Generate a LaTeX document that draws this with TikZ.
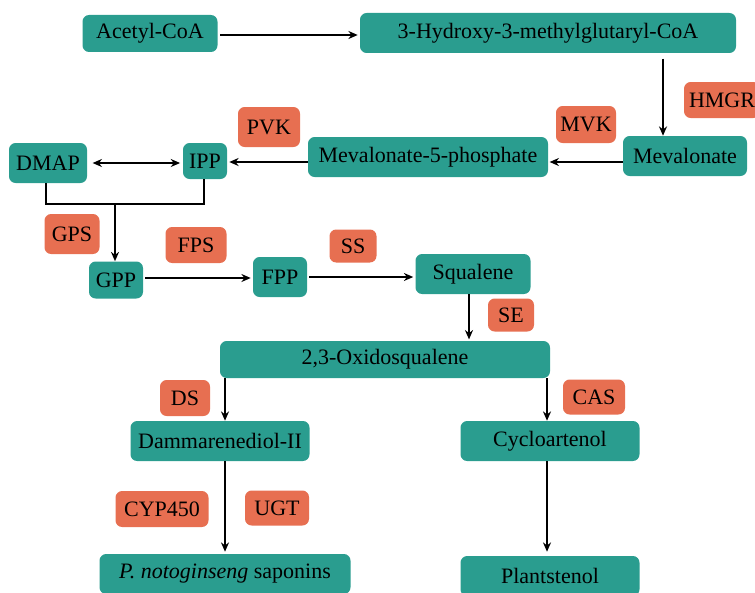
\documentclass[tikz,border=0pt]{standalone}
\usepackage{fontspec}
\setmainfont{Liberation Serif}
\usetikzlibrary{arrows.meta}
\definecolor{teal1}{RGB}{42,157,143}
\definecolor{orng}{RGB}{231,111,81}
\tikzset{
  met/.style={fill=teal1, rounded corners=5pt, inner sep=0pt, font=\fontsize{16.5}{19}\selectfont, text=black},
  enz/.style={fill=orng, rounded corners=5pt, inner sep=0pt, font=\fontsize{16.5}{19}\selectfont, text=black},
  arr/.style={draw=black, line width=1.4pt, -{Stealth[length=7pt,width=6pt]}},
  dbl/.style={draw=black, line width=1.4pt, {Stealth[length=7pt,width=6pt]}-{Stealth[length=7pt,width=6pt]}},
  ln/.style={draw=black, line width=1.4pt},
}
\begin{document}
\begin{tikzpicture}[x=0.75pt,y=-0.75pt]
\useasboundingbox (0,0) rectangle (755,592);
\clip (0,0) rectangle (755,592);
% metabolites
\node[met, minimum width=135*0.75pt, minimum height=37*0.75pt] (acetyl) at (150,33.5) {Acetyl-CoA};
\node[met, minimum width=376*0.75pt, minimum height=40*0.75pt] (hmg) at (548,33) {3-Hydroxy-3-methylglutaryl-CoA};
\node[met, minimum width=124*0.75pt, minimum height=40*0.75pt] (mev) at (685,156) {Mevalonate};
\node[met, minimum width=240*0.75pt, minimum height=40*0.75pt] (m5p) at (428,157) {Mevalonate-5-phosphate};
\node[met, minimum width=44*0.75pt, minimum height=36*0.75pt] (ipp) at (205,161) {IPP};
\node[met, minimum width=78*0.75pt, minimum height=40*0.75pt] (dmap) at (48,163) {DMAP};
\node[met, minimum width=54*0.75pt, minimum height=37*0.75pt] (gpp) at (116,280) {GPP};
\node[met, minimum width=54*0.75pt, minimum height=40*0.75pt] (fpp) at (280,277) {FPP};
\node[met, minimum width=115*0.75pt, minimum height=40*0.75pt] (squa) at (473,274) {Squalene};
\node[met, minimum width=330*0.75pt, minimum height=37*0.75pt] (oxi) at (385,359.5) {2,3-Oxidosqualene};
\node[met, minimum width=179*0.75pt, minimum height=40*0.75pt] (dam) at (220,441) {Dammarenediol-II};
\node[met, minimum width=179*0.75pt, minimum height=40*0.75pt] (cyc) at (550,441) {Cycloartenol};
\node[met, minimum width=251*0.75pt, minimum height=40*0.75pt] (pno) at (225,574) {\textit{P. notoginseng} saponins};
\node[met, minimum width=179*0.75pt, minimum height=40*0.75pt] (pla) at (550,576) {Plantstenol};
% enzymes
\node[enz, minimum width=76*0.75pt, minimum height=36*0.75pt] (hmgr) at (722,100) {HMGR};
\node[enz, minimum width=60*0.75pt, minimum height=37*0.75pt] (mvk) at (586,124.5) {MVK};
\node[enz, minimum width=62*0.75pt, minimum height=40*0.75pt] (pvk) at (269,127) {PVK};
\node[enz, minimum width=55*0.75pt, minimum height=40*0.75pt] (gps) at (72,234) {GPS};
\node[enz, minimum width=61*0.75pt, minimum height=36*0.75pt] (fps) at (196,245) {FPS};
\node[enz, minimum width=47*0.75pt, minimum height=33*0.75pt] (ss) at (353,246) {SS};
\node[enz, minimum width=46*0.75pt, minimum height=33*0.75pt] (se) at (511,315) {SE};
\node[enz, minimum width=50*0.75pt, minimum height=36*0.75pt] (ds) at (185,398) {DS};
\node[enz, minimum width=62*0.75pt, minimum height=35*0.75pt] (cas) at (594,397) {CAS};
\node[enz, minimum width=93*0.75pt, minimum height=36*0.75pt] (cyp) at (162,509) {CYP450};
\node[enz, minimum width=64*0.75pt, minimum height=35*0.75pt] (ugt) at (277,508) {UGT};
% helper coordinates
\coordinate (yA) at (0,35);
\coordinate (xH) at (663,0);
\coordinate (yM) at (0,162);
\coordinate (yD) at (0,163);
\coordinate (xDm) at (46,0);
\coordinate (xIp) at (204,0);
\coordinate (yJ) at (0,204);
\coordinate (xG) at (115,0);
\coordinate (yG) at (0,278);
\coordinate (yF) at (0,277);
\coordinate (xS) at (469,0);
\coordinate (xL) at (225,0);
\coordinate (xR) at (547,0);
% connectors
\draw[arr, shorten <=2pt, shorten >=1.5pt] (acetyl.east |- yA) -- (hmg.west |- yA);
\draw[arr, shorten <=4pt] (xH |- hmg.south) -- (xH |- mev.north);
\draw[arr, shorten >=1pt] (mev.west |- yM) -- (m5p.east |- yM);
\draw[arr, shorten >=1.5pt] (m5p.west |- yM) -- (ipp.east |- yM);
\draw[dbl, shorten <=4pt, shorten >=2pt] (dmap.east |- yD) -- (ipp.west |- yD);
\draw[ln] (xDm |- dmap.south) -- (xDm |- yJ) -- (xIp |- yJ) -- (xIp |- ipp.south);
\draw[arr] (xG |- yJ) -- (xG |- gpp.north);
\draw[arr, shorten <=1.5pt, shorten >=1.5pt] (gpp.east |- yG) -- (fpp.west |- yG);
\draw[arr, shorten <=1.5pt, shorten >=1.5pt] (fpp.east |- yF) -- (squa.west |- yF);
\draw[arr, shorten >=1pt] (xS |- squa.south) -- (xS |- oxi.north);
\draw[arr] (xL |- oxi.south) -- (xL |- dam.north);
\draw[arr] (xR |- oxi.south) -- (xR |- cyc.north);
\draw[arr, shorten >=1.5pt] (xL |- dam.south) -- (xL |- pno.north);
\draw[arr, shorten >=3pt] (xR |- cyc.south) -- (xR |- pla.north);
\end{tikzpicture}
\end{document}
